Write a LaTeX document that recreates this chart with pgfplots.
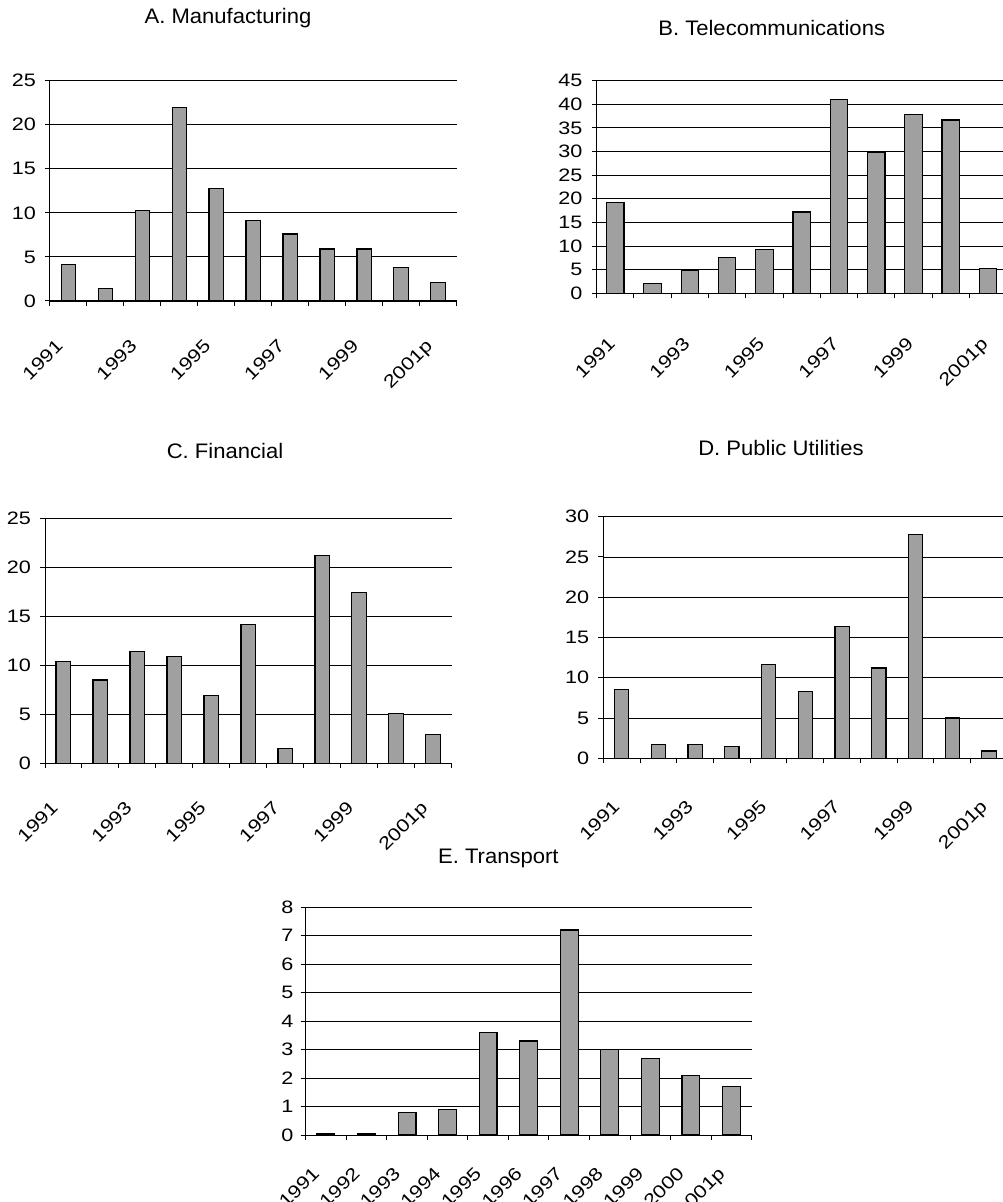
\documentclass[border=0pt]{standalone}
\usepackage{fontspec}
\setmainfont{Liberation Sans}
\newfontfamily\tickfont[FakeStretch=1.2]{Liberation Sans}
\newfontfamily\titlefont[FakeStretch=1.05]{Liberation Sans}
\usepackage{pgfplots}
\pgfplotsset{compat=1.18}

\definecolor{barfill}{RGB}{160,160,160}

\pgfplotsset{
  panel/.style={
    scale only axis, anchor=south west,
    axis lines*=left, axis line style={-, black, line width=1pt},
    xmin=0, xmax=11, ymin=0, xtick={0,...,11},
    ymajorgrids, grid style={black, line width=0.9pt},
    tick align=outside, major tick length=5pt,
    tick style={black, line width=1pt},
    ybar, clip=false,
    /pgf/number format/assume math mode=true,
    ticklabel style={font=\tickfont\fontsize{18}{20}\selectfont},
    yticklabel style={anchor=east, inner sep=0pt, xshift=-9pt},
    xticklabel style={xshift=5pt, yshift=-32pt, rotate=45, anchor=north east, inner sep=0pt},
  },
  bars/.style={draw=black, line width=1.2pt, fill=barfill},
}

\begin{document}
\begin{tikzpicture}
\path[use as bounding box] (0pt,0pt) rectangle (1003pt,1202pt);

\tikzset{ttl/.style={anchor=base, font=\titlefont\fontsize{21}{24}\selectfont}}
\node[ttl] at (228pt,1178pt) {A. Manufacturing};
\node[ttl] at (771.7pt,1166pt) {B. Telecommunications};
\node[ttl] at (225pt,743.7pt) {C. Financial};
\node[ttl] at (781pt,746pt) {D. Public Utilities};
\node[ttl] at (498.3pt,338.7pt) {E. Transport};

% A. Manufacturing
\begin{axis}[panel, at={(50pt,901pt)}, width=406.5pt, height=220.3pt,
  ymax=25, ytick={0,5,...,25}, bar width=0.39,
  xticklabels={1991,,1993,,1995,,1997,,1999,,2001p,}]
\addplot[bars] coordinates {(0.5,4.1) (1.5,1.4) (2.5,10.3) (3.5,22.0) (4.5,12.8)
  (5.5,9.1) (6.5,7.6) (7.5,5.9) (8.5,5.9) (9.5,3.8) (10.5,2.1)};
\end{axis}

% B. Telecommunications
\begin{axis}[panel, at={(596.7pt,908.7pt)}, width=409.9pt, height=212.6pt,
  ymax=45, ytick={0,5,...,45}, bar width=0.47,
  xticklabel style={yshift=-8pt},
  xticklabels={1991,,1993,,1995,,1997,,1999,,2001p,}]
\addplot[bars] coordinates {(0.5,19.2) (1.5,2.0) (2.5,4.8) (3.5,7.6) (4.5,9.3)
  (5.5,17.2) (6.5,41.1) (7.5,29.9) (8.5,37.9) (9.5,36.7) (10.5,5.3)};
\end{axis}

% C. Financial
\begin{axis}[panel, at={(45pt,438.7pt)}, width=406.7pt, height=245pt,
  ymax=25, ytick={0,5,...,25}, bar width=0.40,
  xticklabels={1991,,1993,,1995,,1997,,1999,,2001p,}]
\addplot[bars] coordinates {(0.5,10.4) (1.5,8.5) (2.5,11.4) (3.5,10.9) (4.5,6.9)
  (5.5,14.2) (6.5,1.5) (7.5,21.2) (8.5,17.4) (9.5,5.1) (10.5,2.9)};
\end{axis}

% D. Public Utilities
\begin{axis}[panel, at={(603.3pt,443.7pt)}, width=404.1pt, height=241.6pt,
  ymax=30, ytick={0,5,...,30}, bar width=0.39,
  xticklabel style={yshift=-5pt},
  xticklabels={1991,,1993,,1995,,1997,,1999,,2001p,}]
\addplot[bars] coordinates {(0.5,8.5) (1.5,1.7) (2.5,1.7) (3.5,1.5) (4.5,11.6)
  (5.5,8.3) (6.5,16.4) (7.5,11.2) (8.5,27.8) (9.5,5.0) (10.5,0.9)};
\end{axis}

% E. Transport
\begin{axis}[panel, at={(305.7pt,67pt)}, width=446pt, height=227.7pt,
  ymax=8, ytick={0,1,...,8}, bar width=0.44,
  yticklabel style={xshift=2pt},
  xticklabel style={xshift=5pt, yshift=4pt},
  xticklabels={1991,1992,1993,1994,1995,1996,1997,1998,1999,2000,2001p,}]
\addplot[bars] coordinates {(0.5,0.05) (1.5,0.05) (2.5,0.8) (3.5,0.9) (4.5,3.6)
  (5.5,3.3) (6.5,7.2) (7.5,3.0) (8.5,2.7) (9.5,2.1) (10.5,1.7)};
\end{axis}
\end{tikzpicture}
\end{document}
